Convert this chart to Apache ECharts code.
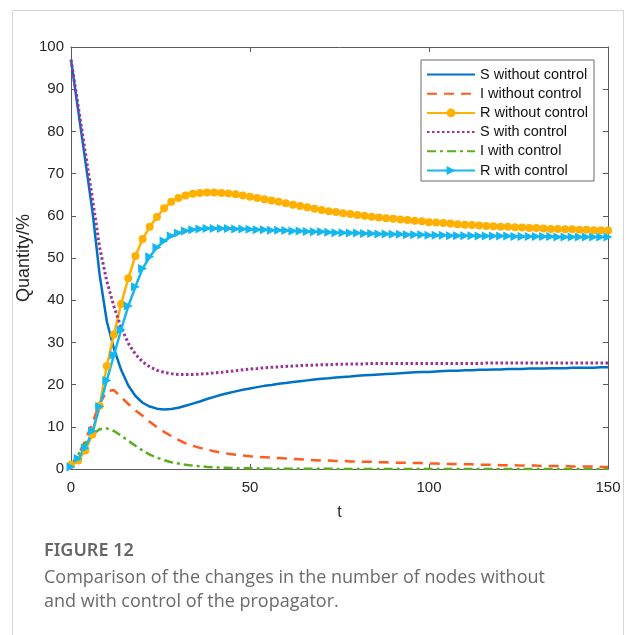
<!DOCTYPE html>
<html>
<head>
<meta charset="utf-8">
<script src="https://cdn.jsdelivr.net/npm/echarts@6/dist/echarts.min.js"></script>
<style>
  html, body { margin: 0; padding: 0; background: #fff; }
  #chart { width: 631px; height: 635px; }
</style>
</head>
<body>
<div id="chart"></div>
<script>
// time steps (every 2 units, one marker per step)
var tSteps = [0,2,4,6,8,10,12,14,16,18,20,22,24,26,28,30,32,34,36,38,40,42,44,46,48,50,52,54,56,58,60,62,64,66,68,70,72,74,76,78,80,82,84,86,88,90,92,94,96,98,100,102,104,106,108,110,112,114,116,118,120,122,124,126,128,130,132,134,136,138,140,142,144,146,148,150];

var sWithout = [97,85,73,61,46,35,28.5,23.5,19.8,17.3,15.7,14.8,14.3,14.1,14.2,14.5,15.0,15.5,16.0,16.6,17.1,17.6,18.0,18.4,18.8,19.1,19.4,19.7,19.9,20.2,20.4,20.6,20.8,21.0,21.2,21.4,21.5,21.7,21.8,21.9,22.1,22.2,22.3,22.4,22.5,22.6,22.7,22.8,22.9,23.0,23.0,23.1,23.2,23.3,23.3,23.4,23.4,23.5,23.5,23.6,23.6,23.7,23.7,23.7,23.8,23.8,23.8,23.9,23.9,23.9,24.0,24.0,24.0,24.0,24.1,24.1];

var iWithout = [1.0,3.2,6.8,11.0,15.5,18.4,18.7,17.0,15.4,13.9,12.6,11.2,9.9,8.8,7.8,6.9,6.1,5.5,5.0,4.6,4.2,3.9,3.6,3.4,3.2,3.0,2.9,2.8,2.7,2.6,2.5,2.4,2.3,2.2,2.1,2.0,2.0,1.9,1.9,1.8,1.8,1.7,1.7,1.6,1.6,1.5,1.5,1.5,1.4,1.4,1.3,1.3,1.2,1.2,1.2,1.1,1.1,1.0,1.0,1.0,0.9,0.9,0.9,0.8,0.8,0.8,0.7,0.7,0.7,0.7,0.6,0.6,0.6,0.6,0.5,0.5];

var rWithout = [1.0,2.0,4.4,8.2,15.0,24.4,31.9,39.1,45.2,50.5,54.5,57.4,59.7,61.8,63.3,64.2,64.8,65.2,65.4,65.5,65.5,65.4,65.3,65.1,64.8,64.5,64.2,63.9,63.6,63.3,63.0,62.6,62.3,62.0,61.7,61.4,61.1,60.9,60.6,60.4,60.2,60.0,59.8,59.6,59.4,59.3,59.1,59.0,58.8,58.7,58.5,58.4,58.3,58.2,58.0,57.9,57.8,57.7,57.6,57.5,57.4,57.4,57.3,57.2,57.1,57.1,57.0,56.9,56.9,56.8,56.8,56.7,56.7,56.6,56.6,56.5];

var sWith = [97,86,75,64,52.5,44.5,38.5,33.5,29.8,27.2,25.4,24.2,23.4,22.9,22.6,22.4,22.4,22.4,22.5,22.6,22.8,22.9,23.1,23.3,23.5,23.7,23.8,24.0,24.1,24.2,24.3,24.4,24.5,24.6,24.6,24.7,24.7,24.8,24.8,24.9,24.9,24.9,25.0,25.0,25.0,25.0,25.0,25.0,25.0,25.0,25.0,25.0,25.0,25.0,25.0,25.0,25.0,25.0,25.1,25.1,25.1,25.1,25.1,25.1,25.1,25.1,25.1,25.1,25.1,25.1,25.1,25.1,25.1,25.1,25.1,25.1];

var iWith = [0.8,3.4,6.2,8.2,9.4,9.6,9.0,7.9,6.7,5.5,4.4,3.4,2.7,2.1,1.6,1.3,1.0,0.8,0.65,0.5,0.4,0.33,0.27,0.22,0.18,0.15,0.12,0.1,0.08,0.07,0.06,0.05,0.05,0.04,0.04,0.03,0.03,0.03,0.02,0.02,0.02,0.02,0.02,0.01,0.01,0.01,0.01,0.01,0.01,0.01,0.01,0.01,0.01,0.01,0.01,0.01,0.01,0.01,0.01,0.01,0.01,0.01,0.01,0.01,0.01,0.01,0.01,0.01,0.01,0.01,0.01,0.01,0.01,0.01,0.01,0.01];

var rWith = [0.5,2.5,5.0,9.0,14.8,21.0,27.0,33.0,38.6,43.2,47.5,50.3,52.5,54.0,55.2,55.9,56.4,56.7,56.9,57.0,57.0,57.0,57.0,56.9,56.9,56.8,56.7,56.7,56.6,56.6,56.5,56.4,56.4,56.3,56.2,56.2,56.1,56.0,56.0,55.9,55.9,55.8,55.8,55.7,55.7,55.6,55.6,55.5,55.5,55.5,55.4,55.4,55.4,55.3,55.3,55.3,55.3,55.2,55.2,55.2,55.2,55.2,55.1,55.1,55.1,55.1,55.1,55.1,55.0,55.0,55.0,55.0,55.0,55.0,55.0,55.0];

var seriesNames = ['S without control', 'I without control', 'R without control', 'S with control', 'I with control', 'R with control'];
var colors = ['#0072C6', '#FF5B1F', '#FFB000', '#993399', '#5AAE1E', '#14B7EE'];

function pairs(vals) {
    return tSteps.map(function (t, i) { return [t, vals[i]]; });
}

var FONT = 'Liberation Sans';
var chart = echarts.init(document.getElementById('chart'), null, { renderer: 'canvas' });

// onZero off, otherwise the top/right copies sit on the bottom/left lines
var axisLine = { show: true, onZero: false, lineStyle: { color: '#5a5a5a', width: 1 } };
var tick = { show: true, inside: true, length: 5, lineStyle: { color: '#5a5a5a' } };

// line-only series get no marker in the legend sample
var legendData = seriesNames.map(function (name, i) {
    if (i === 2 || i === 5) return { name: name };
    return { name: name, itemStyle: { opacity: 0 } };
});

var option = {
    animation: false,
    backgroundColor: '#fff',
    grid: { left: 71, right: 23, top: 47, bottom: 166, containLabel: false },
    xAxis: [{
        type: 'value', min: 0, max: 150, interval: 50,
        name: 't', nameLocation: 'middle', nameGap: 36, nameMoveOverlap: false,
        nameTextStyle: { fontFamily: FONT, fontSize: 16, color: '#262626' },
        axisLine: axisLine, axisTick: tick,
        axisLabel: { fontFamily: FONT, fontSize: 15, color: '#262626', margin: 11 },
        splitLine: { show: false }
    }, {
        type: 'value', position: 'top', min: 0, max: 150, interval: 50,
        axisLine: axisLine, axisTick: tick,
        axisLabel: { show: false },
        splitLine: { show: false }
    }],
    yAxis: [{
        type: 'value', min: 0, max: 100, interval: 10,
        name: 'Quantity/%', nameLocation: 'middle', nameGap: 38, nameMoveOverlap: false,
        nameTextStyle: { fontFamily: FONT, fontSize: 18, color: '#262626' },
        axisLine: axisLine, axisTick: tick,
        axisLabel: { fontFamily: FONT, fontSize: 15, color: '#262626', margin: 7 },
        splitLine: { show: false }
    }, {
        type: 'value', position: 'right', min: 0, max: 100, interval: 10,
        axisLine: axisLine, axisTick: tick,
        axisLabel: { show: false },
        splitLine: { show: false }
    }],
    legend: {
        orient: 'vertical', left: 421, top: 60,
        itemWidth: 48, itemHeight: 11, itemGap: 4.2,
        padding: [7, 6, 3, 5],
        backgroundColor: '#fff', borderColor: '#6a6a6a', borderWidth: 1,
        textStyle: { fontFamily: FONT, fontSize: 14.5, color: '#111' },
        data: legendData
    },
    series: [{
        name: seriesNames[0], type: 'line', data: pairs(sWithout),
        symbol: 'none', lineStyle: { color: colors[0], width: 2.5 },
        itemStyle: { color: colors[0] }
    }, {
        name: seriesNames[1], type: 'line', data: pairs(iWithout),
        symbol: 'none', lineStyle: { color: colors[1], width: 2.5, type: [10, 7] },
        itemStyle: { color: colors[1] }
    }, {
        name: seriesNames[2], type: 'line', data: pairs(rWithout),
        symbol: 'circle', symbolSize: 8, showSymbol: true,
        lineStyle: { color: colors[2], width: 2.5 },
        itemStyle: { color: colors[2] }
    }, {
        name: seriesNames[3], type: 'line', data: pairs(sWith),
        symbol: 'none', lineStyle: { color: colors[3], width: 3, type: [2.5, 2.5] },
        itemStyle: { color: colors[3] }
    }, {
        name: seriesNames[4], type: 'line', data: pairs(iWith),
        symbol: 'none', lineStyle: { color: colors[4], width: 2.5, type: [9, 4, 3, 4] },
        itemStyle: { color: colors[4] }
    }, {
        name: seriesNames[5], type: 'line', data: pairs(rWith),
        symbol: 'triangle', symbolSize: 9, symbolRotate: -90, showSymbol: true,
        lineStyle: { color: colors[5], width: 2.5 },
        itemStyle: { color: colors[5] }
    }],
    graphic: [{
        type: 'rect', left: 10, top: 8, silent: true, z: -10,
        shape: { width: 611, height: 640 },
        style: { fill: 'none', stroke: '#d6d6d6', lineWidth: 1 }
    }, {
        type: 'text', left: 44, top: 542,
        style: { text: 'FIGURE 12', font: '600 18px "Noto Sans"', fill: '#666' }
    }, {
        type: 'text', left: 44, top: 566,
        style: {
            text: 'Comparison of the changes in the number of nodes without\nand with control of the propagator.',
            font: '18px "Open Sans"', fill: '#6b6b6b', lineHeight: 24
        }
    }]
};
chart.setOption(option);
</script>
</body>
</html>
